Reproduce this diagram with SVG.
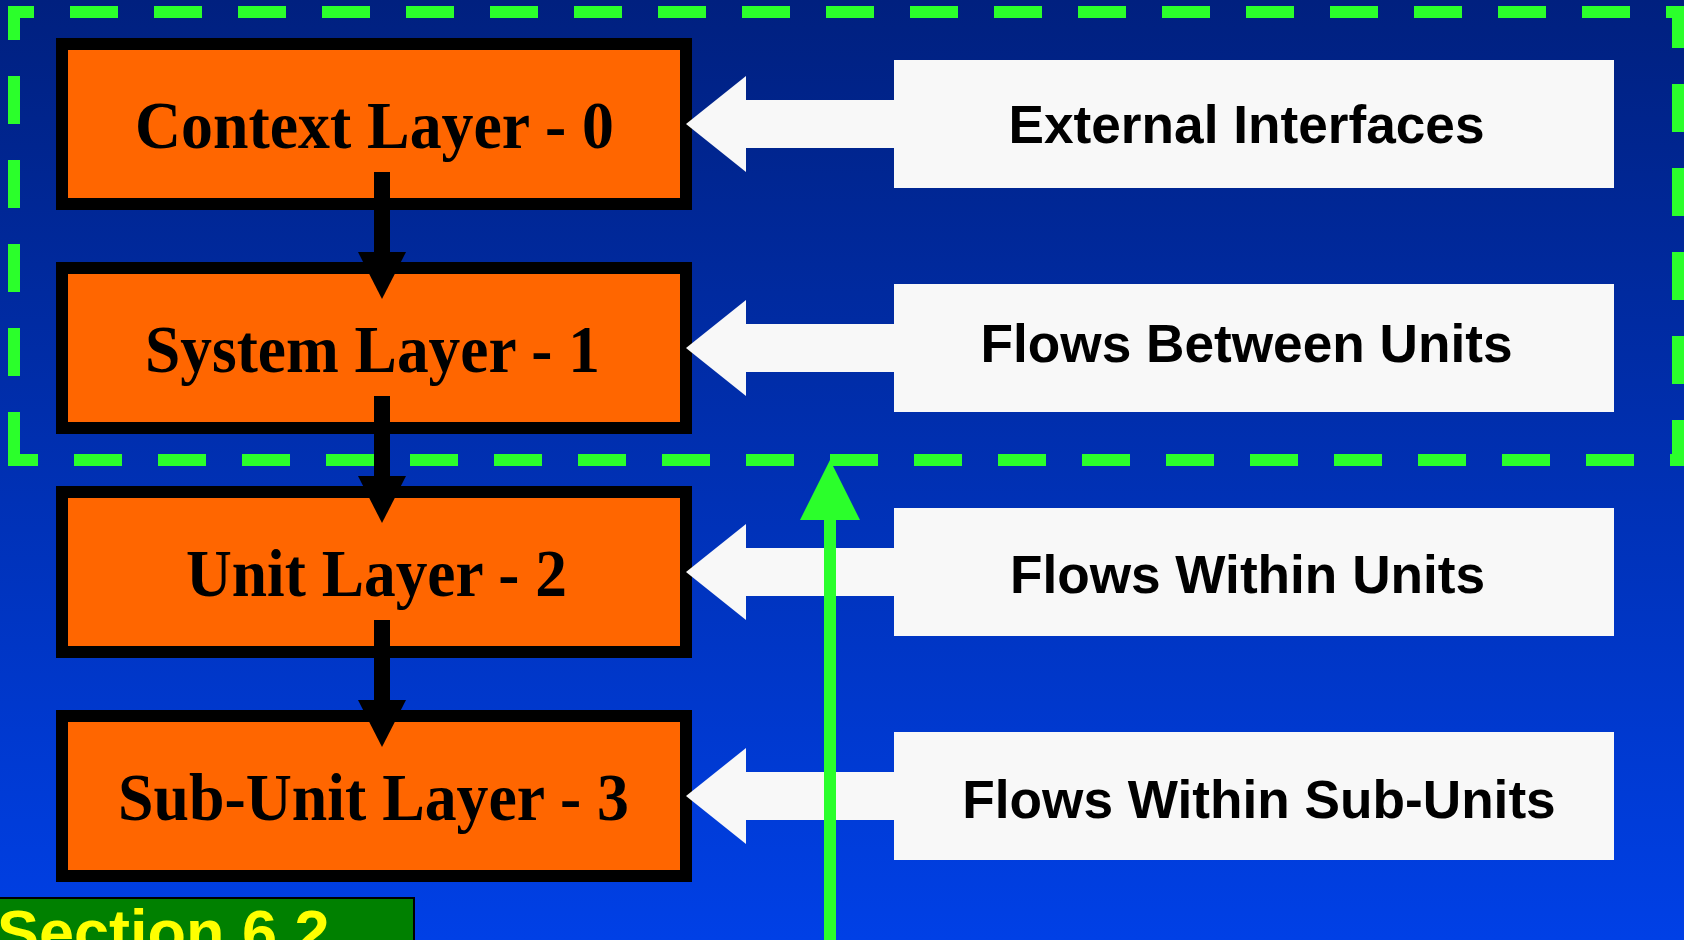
<svg xmlns="http://www.w3.org/2000/svg" width="1684" height="940" viewBox="0 0 1684 940">
<defs>
<linearGradient id="bg" x1="0" y1="0" x2="0" y2="1">
<stop offset="0" stop-color="#00207F"/>
<stop offset="1" stop-color="#0040E6"/>
</linearGradient>
<style>
.dash{stroke:#2BFF2B;stroke-width:12;stroke-dasharray:48 36;fill:none}
.layer{fill:#FF6600;stroke:#000;stroke-width:12}
.ltxt{font-family:"Liberation Serif","Times New Roman",serif;font-weight:bold;font-size:67px;fill:#000}
.conn{stroke:#000;stroke-width:16}
.head{fill:#000}
.warrow{fill:#F8F8F8}
.wbox{fill:#F8F8F8}
.wtxt{font-family:"Liberation Sans",Arial,sans-serif;font-weight:bold;font-size:53.2px;fill:#000;text-anchor:middle}
</style>
</defs>
<rect x="0" y="0" width="1684" height="940" fill="url(#bg)"/>
<g id="scope">
<line class="dash" x1="8" y1="12" x2="1684" y2="12" stroke-dashoffset="22"/>
<line class="dash" x1="14" y1="6" x2="14" y2="466" stroke-dashoffset="14"/>
<line class="dash" x1="1678" y1="6" x2="1678" y2="466" stroke-dashoffset="6"/>
<line class="dash" x1="8" y1="460" x2="1684" y2="460" stroke-dashoffset="18"/>
</g>
<g id="layer0"><rect class="layer" x="62" y="44" width="624" height="160"/><text class="ltxt" x="135" y="148" textLength="479" lengthAdjust="spacingAndGlyphs">Context Layer - 0</text></g>
<g id="layer1"><rect class="layer" x="62" y="268" width="624" height="160"/><text class="ltxt" x="145" y="372" textLength="455" lengthAdjust="spacingAndGlyphs">System Layer - 1</text></g>
<g id="layer2"><rect class="layer" x="62" y="492" width="624" height="160"/><text class="ltxt" x="186" y="596" textLength="381" lengthAdjust="spacingAndGlyphs">Unit Layer - 2</text></g>
<g id="layer3"><rect class="layer" x="62" y="716" width="624" height="160"/><text class="ltxt" x="118" y="820" textLength="511" lengthAdjust="spacingAndGlyphs">Sub-Unit Layer - 3</text></g>
<g id="connectors">
<line class="conn" x1="382" y1="172" x2="382" y2="256"/><polygon class="head" points="358,252 406,252 382,299"/>
<line class="conn" x1="382" y1="396" x2="382" y2="480"/><polygon class="head" points="358,476 406,476 382,523"/>
<line class="conn" x1="382" y1="620" x2="382" y2="704"/><polygon class="head" points="358,700 406,700 382,747"/>
</g>
<g id="ext">
<polygon class="warrow" points="686,124 746,76 746,100 900,100 900,148 746,148 746,172"/>
<rect class="wbox" x="894" y="60" width="720" height="128"/>
<text class="wtxt" x="1246.5" y="143">External Interfaces</text>
</g>
<g id="between">
<polygon class="warrow" points="686,348 746,300 746,324 900,324 900,372 746,372 746,396"/>
<rect class="wbox" x="894" y="284" width="720" height="128"/>
<text class="wtxt" x="1246.5" y="362">Flows Between Units</text>
</g>
<g id="within">
<polygon class="warrow" points="686,572 746,524 746,548 900,548 900,596 746,596 746,620"/>
<rect class="wbox" x="894" y="508" width="720" height="128"/>
<text class="wtxt" x="1247.5" y="593">Flows Within Units</text>
</g>
<g id="withinsub">
<polygon class="warrow" points="686,796 746,748 746,772 900,772 900,820 746,820 746,844"/>
<rect class="wbox" x="894" y="732" width="720" height="128"/>
<text class="wtxt" x="1259" y="818">Flows Within Sub-Units</text>
</g>
<g id="up-arrow">
<line x1="830" y1="515" x2="830" y2="940" stroke="#2BFF2B" stroke-width="12"/>
<polygon points="830,460 860,520 800,520" fill="#2BFF2B"/>
</g>
<g id="section">
<rect x="-2" y="898" width="416" height="50" fill="#008000" stroke="#000" stroke-width="2"/>
<text x="-3" y="954" font-family="'Liberation Sans',Arial,sans-serif" font-weight="bold" font-size="63" fill="#FFFF00">Section 6.2</text>
</g>
</svg>
